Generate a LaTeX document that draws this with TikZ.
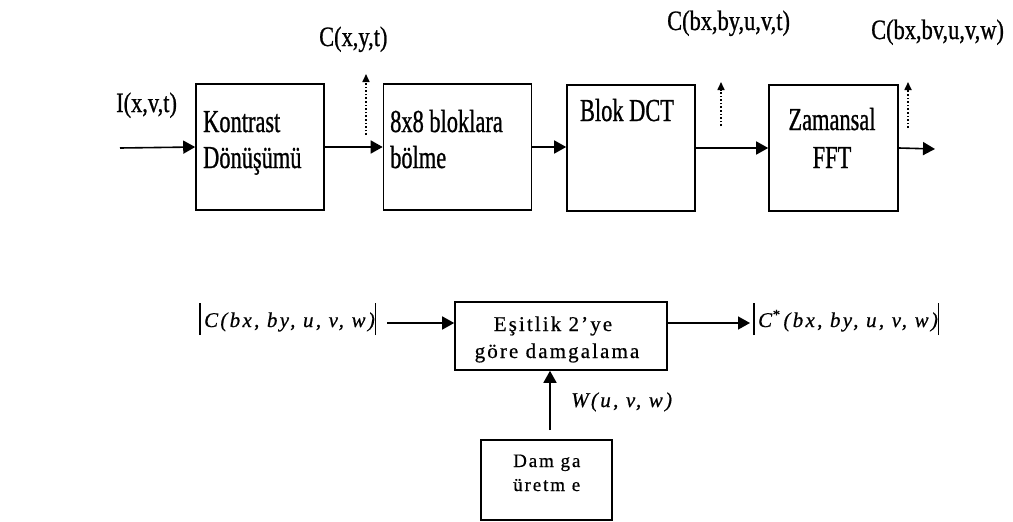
\documentclass[tikz,border=0pt]{standalone}
\usepackage{fontspec}
\setmainfont{Liberation Serif}
\newfontfamily\cond[FakeStretch=0.7,FakeBold=0.8]{Liberation Serif}
\newfontfamily\condl[FakeStretch=0.8,FakeBold=0.8]{Liberation Serif}
\newfontfamily\spaced[LetterSpace=10,FakeBold=0.6]{Liberation Serif}
\newfontfamily\spacedit[LetterSpace=11,FakeBold=0.6]{Liberation Serif Italic}
\usetikzlibrary{arrows.meta}
\newcommand{\vbar}{\raisebox{-8pt}{\rule{1.4pt}{32pt}}}
\begin{document}
\begin{tikzpicture}[x=1pt,y=-1pt,
  box/.style={draw,line width=1.6pt,rectangle,inner sep=0pt},
  arr/.style={line width=1.6pt,-{Triangle[length=12pt,width=13pt]}},
  darr/.style={line width=1.6pt,dotted,-{Triangle[length=8pt,width=7pt]}},
  big/.style={font=\cond\fontsize{32}{36}\selectfont,inner sep=0pt,anchor=base west},
  lab/.style={font=\condl\fontsize{28}{32}\selectfont,inner sep=0pt,anchor=base west},
  low/.style={font=\spaced\fontsize{21}{24}\selectfont,inner sep=0pt},
  mth/.style={font=\spacedit\fontsize{21}{24}\selectfont,inner sep=0pt,anchor=base west}]
\useasboundingbox (0,0) rectangle (1013,522);
% top row boxes
\node[box,minimum width=128pt,minimum height=126pt] (b1) at (260,147) {};
\node[box,minimum width=148pt,minimum height=126pt] (b2) at (457.5,147) {};
\node[box,minimum width=128pt,minimum height=126pt] (b3) at (631,148) {};
\node[box,minimum width=129pt,minimum height=126pt] (b4) at (833.5,148) {};
\node[big] (t1a) at (203,132) {Kontrast};
\node[big] (t1b) at (203,168) {Dönüşümü};
\node[big] (t2a) at (390,132) {8x8 bloklara};
\node[big] (t2b) at (390,168) {bölme};
\node[big,anchor=base] (t3) at (627,121) {Blok DCT};
\node[big,anchor=base] (t4a) at (832,130) {Zamansal};
\node[big,anchor=base] (t4b) at (832,168) {FFT};
% labels
\node[lab] (li) at (116,112) {I(x,v,t)};
\node[lab] (lc1) at (319,46) {C(x,y,t)};
\node[lab] (lc2) at (667,30) {C(bx,by,u,v,t)};
\node[lab] (lc3) at (871,39) {C(bx,bv,u,v,w)};
% connectors
\coordinate (in) at (120,148);
\coordinate (out) at (935,149);
\draw[arr] (in) -- (b1.west);
\draw[arr] (b1.east) -- (b2.west);
\draw[arr] (b2.east) -- (b3.west |- b2.east);
\draw[arr] (b3.east) -- (b4.west);
\draw[arr] (b4.east) -- (out);
\coordinate (d1s) at (366,135); \coordinate (d1e) at (366,74);
\coordinate (d2s) at (721,126); \coordinate (d2e) at (721,82);
\coordinate (d3s) at (908,128); \coordinate (d3e) at (908,82);
\draw[darr] (d1s) -- (d1e);
\draw[darr] (d2s) -- (d2e);
\draw[darr] (d3s) -- (d3e);
% lower part
\node[box,minimum width=212pt,minimum height=68pt] (e) at (561,336) {};
\node[low,anchor=base] (ea) at (553,331) {Eşitlik 2’ye};
\node[low,anchor=base] (eb) at (557,358) {göre damgalama};
\node[mth] (cl) at (199,327) {\vbar\,C(bx, by, u, v, w)\vbar};
\node[mth] (cr) at (753,327) {\vbar\,C\textsuperscript{*}\,(bx, by, u, v, w)\vbar};
\coordinate (la) at (387,323);
\coordinate (ra) at (750,323);
\draw[arr] (la) -- (e.west |- la);
\draw[arr] (e.east |- ra) -- (ra);
\node[box,minimum width=131pt,minimum height=80pt] (d) at (546.5,480) {};
\node[low,anchor=base west,font=\spaced\fontsize{19}{22}\selectfont] (da) at (513,467) {Dam ga};
\node[low,anchor=base west,font=\spaced\fontsize{19}{22}\selectfont] (db) at (513,491) {üretm e};
\coordinate (ws) at (550,430);
\draw[arr] (ws) -- (ws |- e.south);
\node[mth] (wl) at (571,407) {W(u, v, w)};
\end{tikzpicture}
\end{document}
